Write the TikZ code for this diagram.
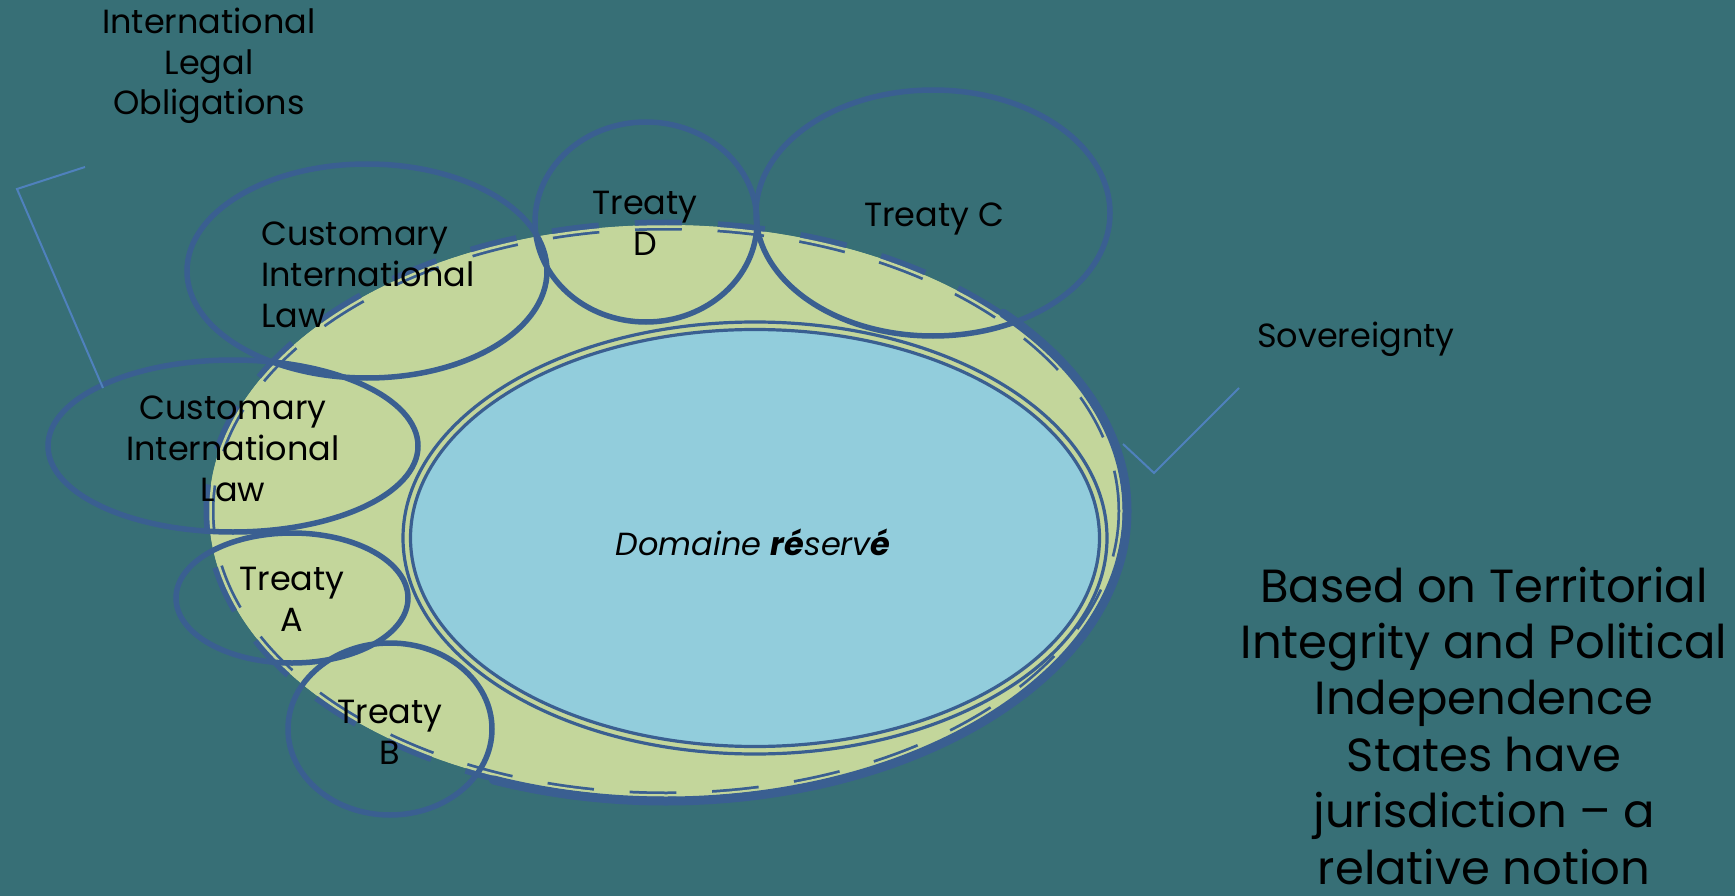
\documentclass[tikz,border=0pt]{standalone}
\usepackage{fontspec}
\setmainfont{Poppins}
\definecolor{bgteal}{HTML}{376F76}
\definecolor{lineblue}{HTML}{3A5F91}
\definecolor{fillgreen}{HTML}{C3D69B}
\definecolor{fillblue}{HTML}{92CDDC}
\definecolor{brackblue}{HTML}{4F81BD}
\tikzset{
  sat/.style={draw=lineblue, line width=5.5pt},
  lbl/.style={inner sep=0pt, font=\fontsize{33.5}{40.8}\selectfont, text=black},
  big/.style={inner sep=0pt, font=\fontsize{46.5}{56.4}\selectfont, text=black, align=center, text depth=0pt},
  bracket/.style={draw=brackblue, line width=2pt},
  ringline/.style={draw=lineblue, line width=3.2pt},
}
\begin{document}
\begin{tikzpicture}[x=1pt,y=-1pt]
\fill[bgteal] (0,0) rectangle (1735,896);
\useasboundingbox (0,0) rectangle (1735,896);
% sovereignty area (green ellipse) with compound dashed border
\fill[fillgreen] (666,511) ellipse [x radius=457, y radius=286];
\draw[lineblue, line width=11pt, dash pattern=on 47pt off 36pt] (666,511) ellipse [x radius=457, y radius=286];
\draw[fillgreen, line width=2.5pt] (666,511) ellipse [x radius=455.5, y radius=284.5];
\draw[lineblue, line width=9pt, line cap=round] (666,511) ++(-43:461 and 290) arc [start angle=-43, end angle=112, x radius=461, y radius=290];
% domaine reserve
\filldraw[fill=fillgreen, ringline] (755,538) ellipse [x radius=352, y radius=216];
\filldraw[fill=fillblue, ringline] (755,538) ellipse [x radius=344.5, y radius=208.5];
% satellite ellipses
\draw[sat] (367,271) ellipse [x radius=180, y radius=107];
\draw[sat] (233,446) ellipse [x radius=185, y radius=86];
\draw[sat] (292,598) ellipse [x radius=116, y radius=65];
\draw[sat] (390,729) ellipse [x radius=102, y radius=86];
\draw[sat] (646,222) ellipse [x radius=111, y radius=100];
\draw[sat] (933,213) ellipse [x radius=177, y radius=123];
% brackets
\coordinate (ilo1) at (85,167);
\coordinate (ilo2) at (17,189);
\coordinate (ilo3) at (103,388);
\draw[bracket] (ilo1) -- (ilo2) -- (ilo3);
\coordinate (sv1) at (1239,388);
\coordinate (sv2) at (1154,473);
\coordinate (sv3) at (1123,444);
\draw[bracket] (sv1) -- (sv2) -- (sv3);
% labels (anchor base = baseline of last line)
\node[lbl, align=center, anchor=base] (ilo) at (209,115) {International\\Legal\\Obligations};
\node[lbl, align=left, anchor=base west] (cil1) at (261,327) {Customary\\International\\Law};
\node[lbl, align=center, anchor=base] (cil2) at (233,501) {Customary\\International\\Law};
\node[lbl, align=center, anchor=base] (td) at (645,255) {Treaty\\D};
\node[lbl, anchor=base] (tc) at (934,227) {Treaty C};
\node[lbl, align=center, anchor=base] (ta) at (292,631) {Treaty\\A};
\node[lbl, align=center, anchor=base] (tb) at (390,764) {Treaty\\B};
\node[lbl, anchor=base, font=\fontsize{32}{38}\selectfont] (dom) at (753,555) {\itshape Domaine \textbf{ré}serv\textbf{é}};
\node[lbl, anchor=base west] (sov) at (1257,347) {Sovereignty};
\node[big, anchor=base] (based) at (1484,884) {Based on Territorial\\Integrity and Political\\Independence\\States have\\jurisdiction – a\\relative notion};
\end{tikzpicture}
\end{document}
